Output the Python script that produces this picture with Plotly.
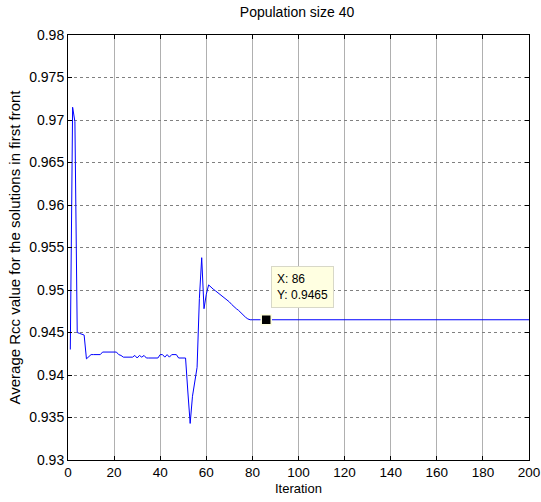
import plotly.graph_objects as go

iterations = list(range(1, 201))
rcc_head = [
    0.9430, 0.9715, 0.9698, 0.9450, 0.9449, 0.9448, 0.9447, 0.9419, 0.9421, 0.9424,
    0.9424, 0.9424, 0.9424, 0.9424, 0.9427, 0.9427, 0.9427, 0.9427, 0.9427, 0.9427,
    0.9427, 0.9424, 0.9423, 0.9421, 0.9421, 0.9421, 0.9421, 0.9421, 0.9423, 0.9420,
    0.9423, 0.9421, 0.9423, 0.9420, 0.9420, 0.9420, 0.9420, 0.9420, 0.9420, 0.9424,
    0.9424, 0.9421, 0.9424, 0.9421, 0.9424, 0.9424, 0.9424, 0.9420, 0.9420, 0.9420,
    0.9420, 0.9380, 0.9343, 0.9375, 0.9395, 0.9409, 0.9490, 0.9538, 0.9478, 0.9495,
    0.9506, 0.9503, 0.9501, 0.9499, 0.9497, 0.9495, 0.9492, 0.9490, 0.9488, 0.9486,
    0.9483, 0.9480, 0.9478, 0.9476, 0.9473, 0.9471, 0.9468, 0.9466, 0.9465,
]
rcc_tail = [0.9465] * (200 - len(rcc_head))
rcc = rcc_head + rcc_tail

tip_x = 86
tip_y = 0.9465

x_ticks = list(range(0, 201, 20))
y_ticks = [0.93, 0.935, 0.94, 0.945, 0.95, 0.955, 0.96, 0.965, 0.97, 0.975, 0.98]
y_tick_text = ["0.93", "0.935", "0.94", "0.945", "0.95", "0.955", "0.96", "0.965", "0.97", "0.975", "0.98"]

font = "Liberation Sans, Arial, sans-serif"

fig = go.Figure()
fig.add_trace(go.Scatter(
    x=iterations, y=rcc, mode="lines",
    line=dict(color="#0000ff", width=1), showlegend=False, hoverinfo="skip",
))
fig.add_trace(go.Scatter(
    x=[tip_x], y=[tip_y], mode="markers",
    marker=dict(symbol="square", size=10, color="black",
                line=dict(color="#ffffe1", width=1.5)),
    showlegend=False, hoverinfo="skip",
))

fig.add_annotation(
    x=tip_x, y=tip_y, xref="x", yref="y",
    text="X: 86<br>Y: 0.9465", showarrow=False,
    xanchor="left", yanchor="bottom", xshift=5, yshift=12,
    align="left", bgcolor="#ffffe1", bordercolor="#d8d8c8", borderwidth=1,
    borderpad=5, font=dict(family=font, size=12, color="black"),
)

axis_common = dict(
    showline=True, linecolor="black", linewidth=1, mirror="ticks",
    ticks="inside", ticklen=4, tickcolor="black",
    zeroline=False, automargin=False,
)

fig.update_xaxes(
    range=[0, 200], tickvals=x_ticks,
    tickfont=dict(family=font, size=13.5, color="black"),
    showgrid=True, gridcolor="#b0b0b0", gridwidth=1,
    title=dict(text="Iteration", font=dict(family=font, size=13, color="black"), standoff=4),
    **axis_common,
)
fig.update_yaxes(
    range=[0.93, 0.98], tickvals=y_ticks, ticktext=y_tick_text,
    tickfont=dict(family=font, size=14, color="black"),
    showgrid=True, gridcolor="#808080", gridwidth=1, griddash="dot",
    title=dict(text="Average Rcc value for the solutions in first front",
               font=dict(family=font, size=15, color="black"), standoff=4),
    **axis_common,
)

fig.update_layout(
    width=541, height=502,
    margin=dict(l=68, r=12, t=35, b=42),
    paper_bgcolor="white", plot_bgcolor="white",
    title=dict(text="Population size 40", x=0.549, xanchor="center",
               y=0.985, yanchor="top",
               font=dict(family=font, size=14, color="black")),
)

fig.write_html("out.html")
